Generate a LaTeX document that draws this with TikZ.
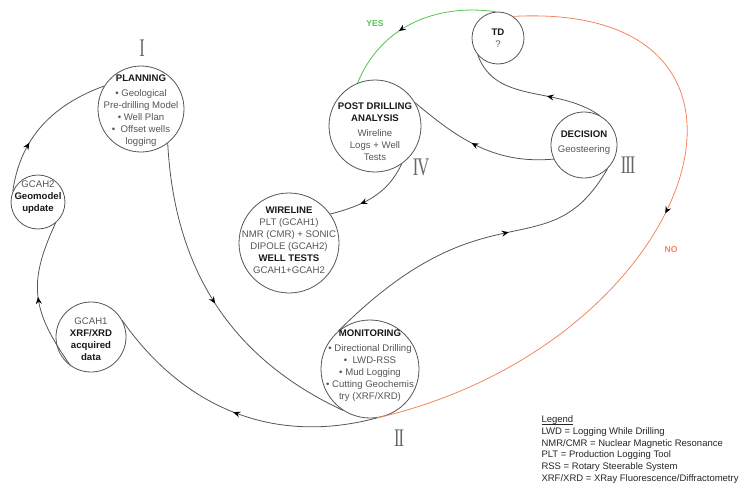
\documentclass[tikz,border=0pt]{standalone}
\usepackage{fontspec}
\setmainfont{Liberation Sans}
\newfontfamily\phasefont[LetterSpace=-6]{Liberation Serif}
\usetikzlibrary{arrows.meta, decorations.markings}
\definecolor{LoopGray}{HTML}{555555}
\definecolor{YesGreen}{HTML}{52C552}
\definecolor{NoOrange}{HTML}{F5845F}
\newcommand{\stagehead}[1]{{\color{black!90}\textbf{#1}}}
\newcommand{\phasenum}[1]{\scalebox{0.75}[1.15]{#1}}

\begin{document}
\begin{tikzpicture}[x=1pt, y=1pt, font=\fontsize{9.6}{12}\selectfont,
    stage/.style={draw=LoopGray, line width=0.8pt, circle, inner sep=0pt, minimum size=#1},
    stagetext/.style={align=center, text=LoopGray},
    flow/.style={draw=LoopGray, line width=0.8pt, postaction={decorate},
      decoration={markings, mark=at position #1 with {\arrow{Stealth[color=black, length=7pt, width=6pt, inset=2.5pt]}}}},
    flow/.default=0.5,
    phase/.style={font=\phasefont\fontsize{22}{22}\selectfont, text=LoopGray!90}]
    \path[use as bounding box] (0,0) rectangle (742,-490);

    % stages of the loop
    \node[stage=86pt] (plan) at (141,-109) {};
    \node[stage=52pt] (td) at (498,-38) {};
    \node[stage=92pt] (pda) at (375,-126) {};
    \node[stage=66pt] (dec) at (584,-145) {};
    \node[stage=100pt] (wire) at (289,-243) {};
    \node[stage=54pt] (gcah2) at (38,-202) {};
    \node[stage=70pt] (gcah1) at (91,-337) {};
    \node[stage=98pt] (mon) at (370,-369) {};

    \node[stagetext, yshift=-2pt] (plan-txt) at (plan) {\stagehead{PLANNING}\\[3pt] • Geological\\ Pre-drilling Model\\ • Well Plan\\ •\ \ Offset wells\\ logging};
    \node[stagetext] (td-txt) at (td) {\stagehead{TD}\\ ?};
    \node[stagetext, yshift=-6pt] (pda-txt) at (pda) {\stagehead{POST DRILLING}\\ \stagehead{ANALYSIS}\\[3pt] Wireline\\ Logs + Well\\ Tests};
    \node[stagetext, yshift=2pt] (dec-txt) at (dec) {\stagehead{DECISION}\\[3pt] Geosteering};
    \node[stagetext, yshift=3pt] (wire-txt) at (wire) {\stagehead{WIRELINE}\\ PLT (GCAH1)\\ NMR (CMR) + SONIC\\ DIPOLE (GCAH2)\\ \stagehead{WELL TESTS}\\ GCAH1+GCAH2};
    \node[stagetext, yshift=5pt] (gcah2-txt) at (gcah2) {GCAH2\\ \stagehead{Geomodel}\\ \stagehead{update}};
    \node[stagetext, yshift=-2pt] (gcah1-txt) at (gcah1) {GCAH1\\ \stagehead{XRF/XRD}\\ \stagehead{acquired}\\ \stagehead{data}};
    \node[stagetext, yshift=3pt] (mon-txt) at (mon) {\stagehead{MONITORING}\\[3pt] • Directional Drilling\\ •\ \ LWD-RSS\\ • Mud Logging\\ • Cutting Geochemis\\ try (XRF/XRD)};

    % phase numbers
    \node[phase] (ph1) at (142,-48) {\phasenum{I}};
    \node[phase] (ph2) at (399,-438) {\phasenum{II}};
    \node[phase] (ph3) at (628,-165) {\phasenum{III}};
    \node[phase] (ph4) at (421,-167) {\phasenum{IV}};

    % connectors
    \draw[flow=0.35] (gcah2.157) to[out=82, in=200] (plan.148);
    \draw[flow] (gcah1.235) to[out=125, in=245, looseness=1.2] (gcah2.-50);
    \draw[flow] (plan.-52) to[out=-87, in=155] (mon.237);
    \draw[flow] (mon.-82) to[out=195, in=-55] (gcah1.28);
    \draw[flow=0.62] (mon.130) .. controls +(45:212) and +(-120:120) .. (dec.-45);
    \draw[flow=0.4] (dec.62) to[out=145, in=-70] (td.220);
    \draw[flow=0.55] (dec.205) to[out=185, in=-40] (pda.30);
    \draw[flow=0.65] (pda.-55) to[out=-115, in=15] (wire.35);
    \draw[flow=0.6, draw=YesGreen] (td.95) to[out=172, in=68] (pda.112);
    \draw[flow=0.47, draw=NoOrange] (td.55) .. controls +(3:300) and +(13:330) .. (mon.-82);

    \node[text=YesGreen, font=\bfseries\fontsize{8.6}{10}\selectfont] (yes) at (375,-24) {YES};
    \node[text=NoOrange, font=\bfseries\fontsize{8.6}{10}\selectfont] (no) at (671,-250) {NO};

    \node[anchor=north west, align=left, text=black!85, font=\fontsize{9.5}{11.6}\selectfont] (legend) at (538,-419) {\underline{\smash{Legend}}\\[0.5pt] LWD = Logging While Drilling\\ NMR/CMR = Nuclear Magnetic Resonance\\ PLT = Production Logging Tool\\ RSS = Rotary Steerable System\\ XRF/XRD = XRay Fluorescence/Diffractometry};
\end{tikzpicture}
\end{document}
